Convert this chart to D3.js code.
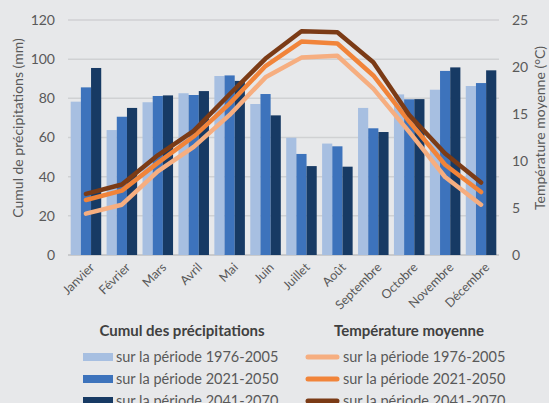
<!DOCTYPE html>
<html>
<head>
<meta charset="utf-8">
<script src="https://cdn.jsdelivr.net/npm/d3@7"></script>
<style>
  body { margin: 0; background: #e7e8ea; }
  svg { display: block; font-family: Lato, "Open Sans", sans-serif; }
</style>
</head>
<body>
<svg id="chart" width="549" height="403"></svg>
<script>
let months = ['Janvier','Février','Mars','Avril','Mai','Juin','Juillet','Août','Septembre','Octobre','Novembre','Décembre']
let periods = ['sur la période 1976-2005','sur la période 2021-2050','sur la période 2041-2070']

// cumul des précipitations (mm)
let pluie1976 = [78.3, 63.8, 78.0, 82.6, 91.4, 77.1, 59.9, 56.9, 75.1, 82.0, 84.4, 86.3]
let pluie2021 = [85.6, 70.6, 81.2, 81.7, 91.7, 82.2, 51.6, 55.5, 64.7, 79.5, 94.0, 87.8]
let pluie2041 = [95.5, 75.1, 81.5, 83.7, 88.9, 71.3, 45.4, 45.1, 62.8, 79.6, 95.8, 94.3]

// température moyenne (°C)
let temp1976 = [4.4, 5.35, 8.9, 11.5, 14.9, 18.9, 21.0, 21.2, 17.7, 13.1, 8.3, 5.35]
let temp2021 = [5.85, 6.85, 9.8, 12.6, 16.1, 20.1, 22.7, 22.5, 19.1, 14.2, 9.6, 6.7]
let temp2041 = [6.5, 7.5, 10.6, 13.2, 17.1, 20.9, 23.8, 23.7, 20.5, 14.9, 10.8, 7.7]

let leftTicks = [0, 20, 40, 60, 80, 100, 120]
let rightTicks = [0, 5, 10, 15, 20, 25]

let barColors = ['#a7bfe1', '#3d73bc', '#173a64']
let lineColors = ['#f6ae80', '#f1843a', '#7b3b16']

let svg = d3.select('#chart')

let x = d3.scaleBand()
    .domain(months)
    .range([68, 499])
    .paddingInner(0.15)
    .paddingOuter(0.075)

let xs = d3.scaleBand()
    .domain([0, 1, 2])
    .range([0, x.bandwidth()])

let yL = d3.scaleLinear().domain([0, 120]).range([255, 20])
let yR = d3.scaleLinear().domain([0, 25]).range([255, 20])

// grid
svg.append('g')
    .selectAll('line')
    .data(leftTicks)
    .enter().append('line')
    .attr('x1', 68).attr('x2', 499)
    .attr('y1', d => yL(d)).attr('y2', d => yL(d))
    .attr('stroke', d => d == 0 ? '#bfc0c2' : '#d0d1d3')
    .attr('stroke-width', 1.5)

// axes
let axisL = svg.append('g')
    .attr('transform', 'translate(68,0)')
    .call(d3.axisLeft(yL).tickValues(leftTicks).tickSize(0).tickPadding(13))
let axisR = svg.append('g')
    .attr('transform', 'translate(499,0)')
    .call(d3.axisRight(yR).tickValues(rightTicks).tickSize(0).tickPadding(13))
;[axisL, axisR].forEach(a => {
    a.select('.domain').remove()
    a.selectAll('text').attr('font-size', 14).attr('fill', '#595959')
        .attr('font-family', 'Lato, "Open Sans", sans-serif')
})

// bars
let series = [pluie1976, pluie2021, pluie2041]
series.forEach((vals, s) => {
    svg.append('g')
        .selectAll('rect')
        .data(vals)
        .enter().append('rect')
        .attr('x', (d, i) => x(months[i]) + xs(s))
        .attr('width', xs.bandwidth())
        .attr('y', d => yL(d))
        .attr('height', d => yL(0) - yL(d))
        .attr('fill', barColors[s])
})

// lines
let line = d3.line()
    .x((d, i) => x(months[i]) + x.bandwidth() / 2)
    .y(d => yR(d))
;[temp1976, temp2021, temp2041].forEach((vals, s) => {
    svg.append('path')
        .datum(vals)
        .attr('d', line)
        .attr('fill', 'none')
        .attr('stroke', lineColors[s])
        .attr('stroke-width', 4.5)
        .attr('stroke-linejoin', 'round')
        .attr('stroke-linecap', 'round')
})

// month labels
svg.append('g')
    .selectAll('text')
    .data(months)
    .enter().append('text')
    .attr('transform', d => `translate(${x(d) + x.bandwidth() / 2 + 3},${262}) rotate(-45)`)
    .attr('text-anchor', 'end')
    .attr('dy', '0.7em')
    .attr('font-size', 12.5)
    .attr('fill', '#595959')
    .text(d => d)

// axis titles
svg.append('text')
    .attr('transform', 'translate(23,128) rotate(-90)')
    .attr('text-anchor', 'middle')
    .attr('font-size', 14)
    .attr('fill', '#595959')
    .text('Cumul de précipitations (mm)')
svg.append('text')
    .attr('transform', 'translate(535,128) rotate(-90)')
    .attr('text-anchor', 'middle')
    .attr('font-size', 14)
    .attr('fill', '#595959')
    .attr('dy', '0.7em')
    .text('Température moyenne (°C)')

// legend
let legTitles = [
    {text: 'Cumul des précipitations', x: 182},
    {text: 'Température moyenne', x: 409}
]
svg.selectAll('.legtitle')
    .data(legTitles)
    .enter().append('text')
    .attr('class', 'legtitle')
    .attr('x', d => d.x).attr('y', 336)
    .attr('text-anchor', 'middle')
    .attr('font-size', 15)
    .attr('font-weight', 'bold')
    .attr('fill', '#404040')
    .text(d => d.text)

let rowY = [357, 379, 401]
let legBar = svg.append('g').selectAll('g')
    .data(periods)
    .enter().append('g')
    .attr('transform', (d, i) => `translate(0,${rowY[i]})`)
legBar.append('rect')
    .attr('x', 83).attr('y', -4).attr('width', 30).attr('height', 8)
    .attr('fill', (d, i) => barColors[i])
legBar.append('text')
    .attr('x', 116).attr('dy', '0.35em')
    .attr('font-size', 14.5).attr('fill', '#595959')
    .text(d => d)

let legLine = svg.append('g').selectAll('g')
    .data(periods)
    .enter().append('g')
    .attr('transform', (d, i) => `translate(0,${rowY[i]})`)
legLine.append('line')
    .attr('x1', 308).attr('x2', 337)
    .attr('stroke', (d, i) => lineColors[i])
    .attr('stroke-width', 5)
    .attr('stroke-linecap', 'round')
legLine.append('text')
    .attr('x', 343).attr('dy', '0.35em')
    .attr('font-size', 14.5).attr('fill', '#595959')
    .text(d => d)
</script>
</body>
</html>
